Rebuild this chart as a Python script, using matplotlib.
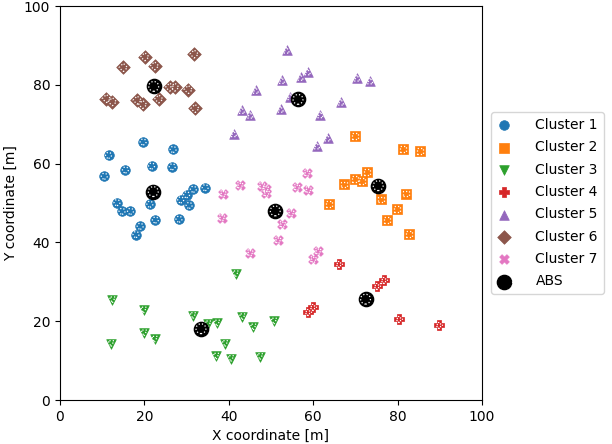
import matplotlib
matplotlib.use("Agg")
import matplotlib.pyplot as plt
from matplotlib.legend_handler import HandlerTuple

# Cluster users (x, y)
c1_x = [19.7, 26.8, 11.5, 15.5, 21.7, 26.6, 10.5, 34.4, 31.6, 30.0, 28.6, 30.6, 13.5, 14.7, 16.7, 21.3, 22.6, 28.2, 19.0, 18.0]
c1_y = [65.5, 63.6, 62.1, 58.4, 59.4, 59.2, 56.8, 53.9, 53.5, 52.1, 50.8, 49.4, 50.1, 47.9, 47.9, 49.7, 45.7, 45.9, 44.1, 42.0]

c2_x = [69.8, 81.3, 85.3, 72.8, 69.9, 71.6, 67.2, 81.9, 76.1, 63.8, 79.8, 77.4, 82.6]
c2_y = [66.9, 63.8, 63.3, 57.8, 56.2, 55.6, 54.7, 52.4, 50.9, 49.7, 48.5, 45.7, 42.1]

c3_x = [41.6, 12.4, 19.8, 31.5, 43.2, 50.7, 37.2, 35.1, 45.8, 19.9, 22.4, 12.1, 39.1, 37.0, 40.5, 47.4]
c3_y = [32.0, 25.4, 22.8, 21.4, 21.1, 20.0, 19.5, 19.3, 18.5, 17.0, 15.4, 14.3, 14.3, 11.1, 10.5, 11.0]

c4_x = [66.1, 76.7, 75.2, 59.9, 58.7, 80.4, 89.8]
c4_y = [34.5, 30.5, 29.0, 23.6, 22.3, 20.5, 19.0]

c5_x = [53.7, 52.6, 57.0, 58.7, 46.4, 70.4, 73.5, 54.6, 66.6, 43.1, 45.1, 52.3, 61.7, 41.2, 63.4, 60.9]
c5_y = [88.8, 81.1, 81.9, 83.3, 78.6, 81.7, 81.0, 77.0, 75.6, 73.5, 72.3, 73.8, 72.4, 67.6, 66.5, 64.5]

c6_x = [20.1, 31.8, 15.0, 22.4, 26.0, 27.2, 30.4, 11.0, 12.4, 18.3, 19.6, 23.4, 32.0]
c6_y = [87.1, 87.8, 84.4, 84.8, 79.4, 79.4, 78.8, 76.5, 75.7, 76.1, 75.0, 76.4, 74.0]

c7_x = [58.5, 42.6, 47.8, 48.7, 48.9, 56.1, 58.8, 38.6, 54.7, 38.3, 52.7, 51.6, 45.0, 61.1, 60.0]
c7_y = [57.6, 54.5, 54.4, 53.6, 52.5, 54.0, 53.4, 52.4, 47.5, 46.3, 44.6, 40.6, 37.4, 37.8, 35.7]

abs_x = [22.2, 56.4, 22.1, 51.0, 75.4, 72.4, 33.4]
abs_y = [79.6, 76.3, 52.9, 48.0, 54.4, 25.6, 18.1]

clusters = [
    ("Cluster 1", c1_x, c1_y, "o", "tab:blue"),
    ("Cluster 2", c2_x, c2_y, "s", "tab:orange"),
    ("Cluster 3", c3_x, c3_y, "v", "tab:green"),
    ("Cluster 4", c4_x, c4_y, "P", "tab:red"),
    ("Cluster 5", c5_x, c5_y, "^", "tab:purple"),
    ("Cluster 6", c6_x, c6_y, "D", "tab:brown"),
    ("Cluster 7", c7_x, c7_y, "X", "tab:pink"),
]

fig = plt.figure(figsize=(6.12, 4.44), dpi=100)
ax = fig.add_axes([60 / 612, 1 - 400 / 444, 422 / 612, 394 / 444])

handles = []
labels = []
for name, xs, ys, m, col in clusters:
    h1 = ax.scatter(xs, ys, s=48, marker=m, color=col, edgecolors=col, linewidths=0.5, zorder=2)
    # white dotted inner outline
    h2 = ax.scatter(xs, ys, s=18, marker=m, facecolors="none", edgecolors="white",
                    linewidths=0.9, linestyles=":", zorder=2)
    handles.append((h1, h2))
    labels.append(name)

a1 = ax.scatter(abs_x, abs_y, s=105, marker="o", color="black", edgecolors="black", zorder=3)
a2 = ax.scatter(abs_x, abs_y, s=50, marker="o", facecolors="none", edgecolors="white",
                linewidths=0.9, linestyles=":", zorder=3)
handles.append((a1, a2))
labels.append("ABS")

ax.set_xlim(0, 100)
ax.set_ylim(0, 100)
ax.set_xlabel("X coordinate [m]")
ax.set_ylabel("Y coordinate [m]")

ax.legend(handles, labels, handler_map={tuple: HandlerTuple(ndivide=None, pad=0)},
          loc="center left", bbox_to_anchor=(1.005, 0.5), fontsize=10, labelspacing=0.6)

fig.savefig("out.png", dpi=100)
